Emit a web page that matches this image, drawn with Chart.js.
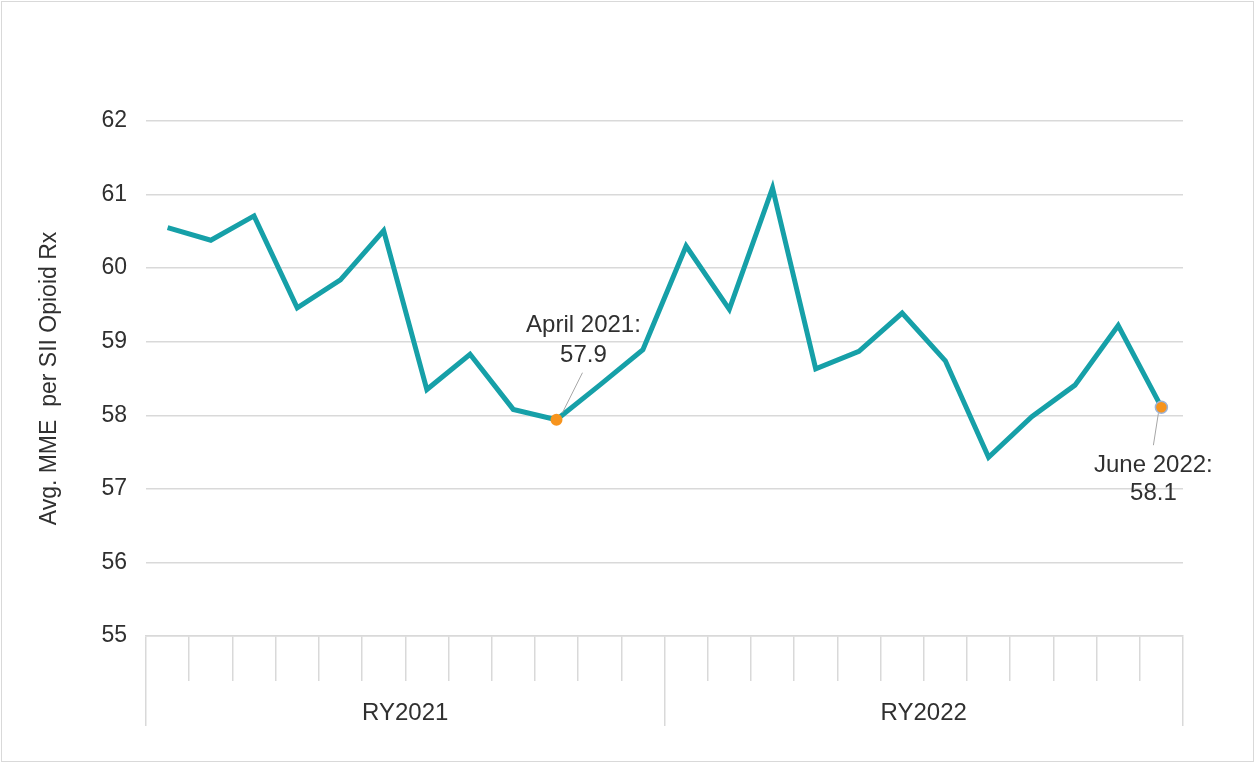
<!DOCTYPE html>
<html>
<head>
<meta charset="utf-8">
<script src="https://cdn.jsdelivr.net/npm/chart.js@4.4.1/dist/chart.umd.min.js"></script>
<style>
  html, body { margin: 0; padding: 0; background: #fff; }
  #wrap { position: relative; width: 1256px; height: 763px; }
  #frame { position: absolute; left: 1px; top: 1px; width: 1251px; height: 759px; border: 1.5px solid #d9d9d9; pointer-events: none; }
</style>
</head>
<body>
<div id="wrap">
  <canvas id="mmeChart" width="1256" height="763"></canvas>
  <div id="frame"></div>
</div>
<script>
// Months (July 2020 - June 2022)
const months = [
  "July 2020", "August 2020", "September 2020", "October 2020", "November 2020", "December 2020",
  "January 2021", "February 2021", "March 2021", "April 2021", "May 2021", "June 2021",
  "July 2021", "August 2021", "September 2021", "October 2021", "November 2021", "December 2021",
  "January 2022", "February 2022", "March 2022", "April 2022", "May 2022", "June 2022"
];

// Reporting years (group labels under the months)
const reportingYears = ["RY2021", "RY2022"];

// Avg. MME per SII opioid Rx
const avgMme = [
  60.55, 60.38, 60.71, 59.46, 59.84, 60.51, 58.35, 58.83, 58.08, 57.94, 58.41, 58.89,
  60.30, 59.44, 61.09, 58.63, 58.87, 59.39, 58.74, 57.43, 57.98, 58.41, 59.22, 58.11
];

// Y axis ticks
const yTicks = [55, 56, 57, 58, 59, 60, 61, 62];

// Points that get a callout
const calloutIndexes = [9, 23];

const textColor = "#303030";
const gridColor = "#d9d9d9";
const fontFamily = "'Liberation Sans', Arial, sans-serif";

// Callout labels with leader lines
const calloutPlugin = {
  id: "callouts",
  afterDatasetsDraw(chart) {
    const ctx = chart.ctx;
    const meta = chart.getDatasetMeta(0);
    const offsets = {
      9: { lx: 27, l1: -94, l2: -64, from: [26, -47], to: [6, -7] },
      23: { lx: -8, l1: 58, l2: 86, from: [-3, 6], to: [-8, 38] },
    };
    ctx.save();
    calloutIndexes.forEach((i) => {
      const pt = meta.data[i];
      const o = offsets[i];
      ctx.strokeStyle = "#a6a6a6";
      ctx.lineWidth = 1;
      ctx.beginPath();
      ctx.moveTo(pt.x + o.from[0], pt.y + o.from[1]);
      ctx.lineTo(pt.x + o.to[0], pt.y + o.to[1]);
      ctx.stroke();
      ctx.fillStyle = textColor;
      ctx.font = "24px " + fontFamily;
      ctx.textAlign = "center";
      ctx.textBaseline = "middle";
      ctx.fillText(months[i] + ":", pt.x + o.lx, pt.y + o.l1);
      ctx.fillText(avgMme[i].toFixed(1), pt.x + o.lx, pt.y + o.l2);
    });
    ctx.restore();
  },
};

const ctx = document.getElementById("mmeChart").getContext("2d");
new Chart(ctx, {
  type: "line",
  data: {
    labels: months,
    datasets: [
      {
        label: "Avg. MME per SII Opioid Rx",
        data: avgMme,
        borderColor: "#16a0a8",
        borderWidth: 5,
        tension: 0,
        fill: false,
        pointRadius: (c) => (calloutIndexes.includes(c.dataIndex) ? 6 : 0),
        pointBackgroundColor: "#f7941d",
        pointBorderColor: (c) => (c.dataIndex === 23 ? "#9db3d6" : "#f7941d"),
        pointBorderWidth: (c) => (c.dataIndex === 23 ? 1.5 : 0),
      },
    ],
  },
  options: {
    responsive: false,
    animation: false,
    layout: { padding: { top: 121, right: 73, bottom: 0, left: 8 } },
    plugins: {
      legend: { display: false },
      tooltip: { enabled: false },
    },
    scales: {
      x: {
        type: "category",
        offset: true,
        weight: 0,
        grid: {
          offset: true,
          drawOnChartArea: false,
          drawTicks: true,
          tickLength: 45,
          color: gridColor,
          lineWidth: 1.5,
        },
        border: { display: true, color: gridColor, width: 1.5 },
        ticks: { display: false },
        afterFit: (s) => { s.height = 45; },
      },
      x2: {
        type: "category",
        position: "bottom",
        labels: reportingYears,
        offset: true,
        weight: 1,
        grid: {
          offset: true,
          drawOnChartArea: false,
          drawTicks: true,
          tickLength: 45,
          color: gridColor,
          lineWidth: 1.5,
        },
        border: { display: false },
        ticks: {
          color: textColor,
          padding: -27,
          maxRotation: 0,
          font: { family: fontFamily, size: 24 },
        },
        afterFit: (s) => { s.height = 82; },
      },
      y: {
        min: 55,
        max: 62,
        afterBuildTicks: (s) => { s.ticks = yTicks.map((v) => ({ value: v })); },
        grid: { color: gridColor, lineWidth: 1.5, drawTicks: false },
        border: { display: false },
        ticks: {
          color: textColor,
          padding: 19,
          font: { family: fontFamily, size: 23 },
        },
        title: {
          display: true,
          text: "Avg. MME  per SII Opioid Rx",
          color: textColor,
          padding: { top: 28, bottom: 0 },
          font: { family: fontFamily, size: 23 },
        },
        afterFit: (s) => { s.width = 138; },
      },
    },
  },
  plugins: [calloutPlugin],
});
</script>
</body>
</html>
